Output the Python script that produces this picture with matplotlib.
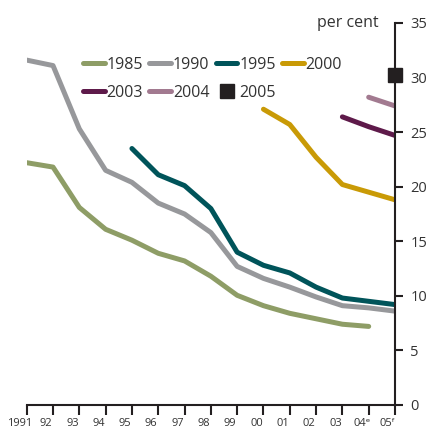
import numpy as np
import matplotlib.pyplot as plt
import matplotlib.transforms as mtransforms

plt.rcParams['font.family'] = ['Open Sans', 'DejaVu Sans']

# Data (per cent)
years = list(range(1991, 2006))
s1985 = [22.2, 21.8, 18.1, 16.1, 15.1, 13.9, 13.2, 11.8, 10.05, 9.1, 8.4, 7.9, 7.4, 7.2]
s1990 = [31.6, 31.1, 25.3, 21.5, 20.4, 18.5, 17.5, 15.8, 12.7, 11.6, 10.8, 9.9, 9.1, 8.9, 8.6]
s1995 = [23.5, 21.1, 20.1, 18.0, 14.0, 12.8, 12.1, 10.8, 9.8, 9.5, 9.2]
s2000 = [27.1, 25.7, 22.7, 20.2, 19.5, 18.8]
s2003 = [26.4, 25.5, 24.7]
s2004 = [28.2, 27.4]
s2005 = [30.2]

tick_labels = ['1991', '92', '93', '94', '95', '96', '97', '98', '99', '00',
               '01', '02', '03', '04\u1d49', '05\u1da0']

colors = {
    '1985': '#8e9d66',
    '1990': '#97989b',
    '1995': '#00545a',
    '2000': '#c99a06',
    '2003': '#5e1a4a',
    '2004': '#a27a90',
    '2005': '#231f20',
}

fig = plt.figure(figsize=(4.32, 4.34), dpi=100)
ax = fig.add_axes([26.7 / 432, 29 / 434, (395 - 26.7) / 432, (405 - 23) / 434])

lw = 3.6
kw = dict(lw=lw, solid_capstyle='round', solid_joinstyle='round')
h1985, = ax.plot(years[:len(s1985)], s1985, color=colors['1985'], label='1985', **kw)
h1990, = ax.plot(years[-len(s1990):], s1990, color=colors['1990'], label='1990', **kw)
h1995, = ax.plot(years[-len(s1995):], s1995, color=colors['1995'], label='1995', **kw)
h2000, = ax.plot(years[-len(s2000):], s2000, color=colors['2000'], label='2000', **kw)
h2003, = ax.plot(years[-len(s2003):], s2003, color=colors['2003'], label='2003', **kw)
h2004, = ax.plot(years[-len(s2004):], s2004, color=colors['2004'], label='2004', **kw)
h2005, = ax.plot(years[-len(s2005):], s2005, ls='none', marker='s', ms=9.5,
                 color=colors['2005'], label='2005', clip_on=False, zorder=5)

ax.set_xlim(1991, 2005)
ax.set_ylim(0, 35)

# axes styling: only bottom and right spines
for side in ['left', 'top']:
    ax.spines[side].set_visible(False)
for side in ['bottom', 'right']:
    ax.spines[side].set_linewidth(1.5)
    ax.spines[side].set_color('#231f20')

ax.yaxis.tick_right()
ax.set_yticks(range(0, 36, 5))
ax.tick_params(axis='y', direction='out', length=6, width=1.5, pad=5,
               labelsize=10.5, colors='#231f20', labelcolor='#333333')
ax.set_xticks(years)
ax.set_xticklabels(tick_labels)
ax.tick_params(axis='x', direction='out', length=7, width=1.5, pad=2,
               labelsize=8, colors='#231f20', labelcolor='#333333')
offset = mtransforms.ScaledTranslation(-7 / 100, 0, fig.dpi_scale_trans)
for lab in ax.get_xticklabels():
    lab.set_transform(lab.get_transform() + offset)

fig.text(379 / 432, 1 - 23 / 434, 'per cent', ha='right', va='center',
         fontsize=11.5, color='#333333')

handles = [h1985, h2003, h1990, h2004, h1995, h2005, h2000]
leg = fig.legend(handles=handles, labels=[h.get_label() for h in handles],
                 ncol=4, loc='upper left', bbox_to_anchor=(83 / 432, 1 - 57 / 434),
                 frameon=False, fontsize=11.5, handlelength=1.35, handletextpad=0.12,
                 columnspacing=0.4, labelspacing=0.75, borderpad=0, borderaxespad=0)
for t in leg.get_texts():
    t.set_color('#333333')

fig.savefig('out.png', dpi=100)
